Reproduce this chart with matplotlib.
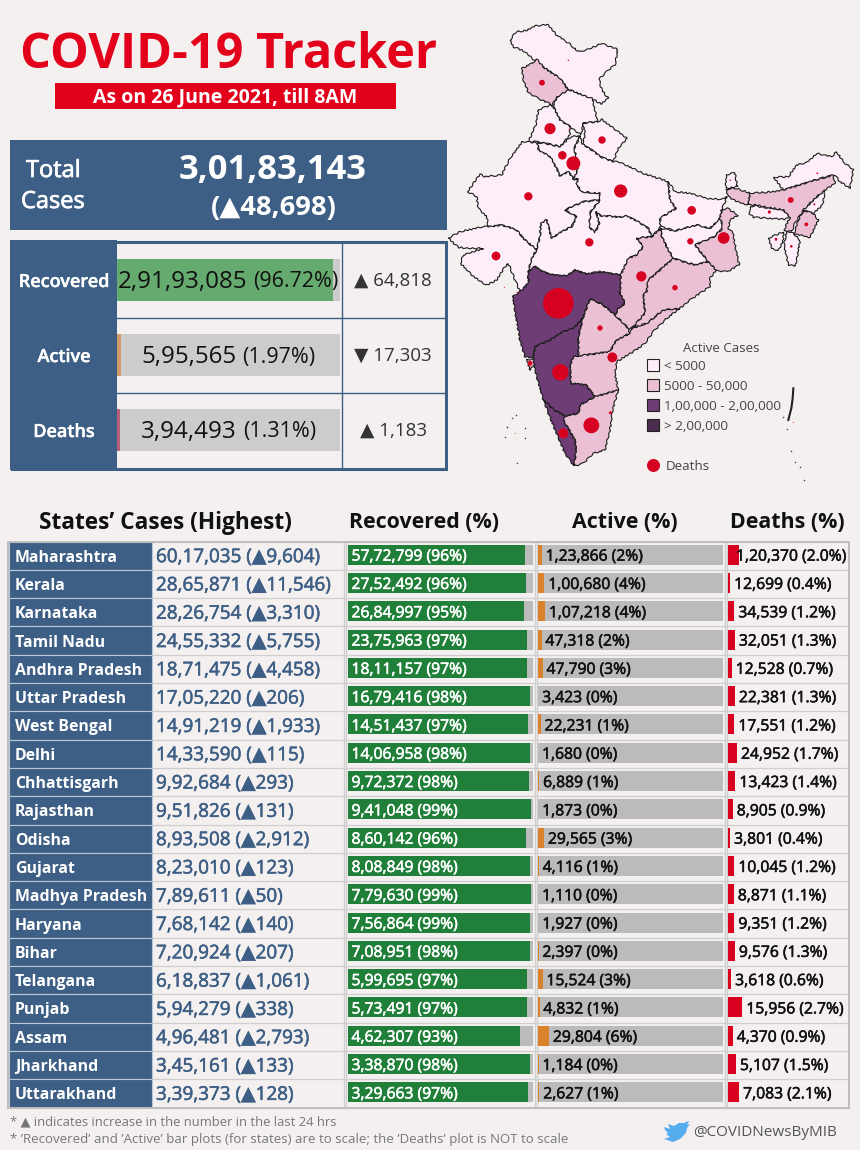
import matplotlib
matplotlib.use("Agg")
import matplotlib.pyplot as plt
import matplotlib.patheffects as pe
from matplotlib.patches import Rectangle, Polygon
import numpy as np

plt.rcParams['font.family'] = ['Open Sans', 'DejaVu Sans']

BG = '#f4f0f0'
BLUE = '#3e5f85'

# headline numbers
total_cases = '3,01,83,143'
total_delta = '(▲48,698)'
summary_names = ['Recovered', 'Active', 'Deaths']
summary_values = ['2,91,93,085', '5,95,565', '3,94,493']
summary_pcts = [96.72, 1.97, 1.31]
summary_changes = ['▲ 64,818', '▼ 17,303', '▲ 1,183']
summary_colors = ['#65aa6e', '#d39a6c', '#b5607a']

# state table
states = ['Maharashtra', 'Kerala', 'Karnataka', 'Tamil Nadu', 'Andhra Pradesh',
          'Uttar Pradesh', 'West Bengal', 'Delhi', 'Chhattisgarh', 'Rajasthan',
          'Odisha', 'Gujarat', 'Madhya Pradesh', 'Haryana', 'Bihar', 'Telangana',
          'Punjab', 'Assam', 'Jharkhand', 'Uttarakhand']
total = [6017035, 2865871, 2826754, 2455332, 1871475, 1705220, 1491219, 1433590,
         992684, 951826, 893508, 823010, 789611, 768142, 720924, 618837, 594279,
         496481, 345161, 339373]
delta = [9604, 11546, 3310, 5755, 4458, 206, 1933, 115, 293, 131, 2912, 123, 50,
         140, 207, 1061, 338, 2793, 133, 128]
recovered = [5772799, 2752492, 2684997, 2375963, 1811157, 1679416, 1451437, 1406958,
             972372, 941048, 860142, 808849, 779630, 756864, 708951, 599695, 573491,
             462307, 338870, 329663]
rec_pct = [96, 96, 95, 97, 97, 98, 97, 98, 98, 99, 96, 98, 99, 99, 98, 97, 97, 93, 98, 97]
active = [123866, 100680, 107218, 47318, 47790, 3423, 22231, 1680, 6889, 1873, 29565,
          4116, 1110, 1927, 2397, 15524, 4832, 29804, 1184, 2627]
act_pct = [2, 4, 4, 2, 3, 0, 1, 0, 1, 0, 3, 1, 0, 0, 0, 3, 1, 6, 0, 1]
deaths = [120370, 12699, 34539, 32051, 12528, 22381, 17551, 24952, 13423, 8905, 3801,
          10045, 8871, 9351, 9576, 3618, 15956, 4370, 5107, 7083]
death_pct = [2.0, 0.4, 1.2, 1.3, 0.7, 1.3, 1.2, 1.7, 1.4, 0.9, 0.4, 1.2, 1.1, 1.2, 1.3,
             0.6, 2.7, 0.9, 1.5, 2.1]

# map outlines, in map units
light_states = [
    [(210,92),(228,65),(258,62),(285,48),(325,44),(350,75),(387,100),(415,125),(445,118),(485,100),(533,118),(525,165),(505,180),(477,208),(485,240),(505,265),(483,282),(457,266),(425,255),(385,238),(360,205),(315,175),(295,160),(280,148),(255,125),(220,110)],
    [(350,262),(385,238),(425,255),(457,266),(465,300),(473,335),(430,340),(423,375),(390,350),(360,330),(340,290)],
    [(295,300),(330,285),(340,290),(360,330),(390,350),(390,375),(360,410),(325,402),(293,395),(265,395),(287,345)],
    [(430,340),(473,335),(485,328),(520,355),(562,385),(535,415),(520,455),(485,442),(455,420),(427,402),(435,375)],
    [(293,398),(325,402),(360,410),(393,380),(420,378),(403,415),(415,475),(400,508),(387,485),(360,498),(350,475),(330,440),(295,420)],
    [(247,395),(293,398),(295,420),(330,440),(350,475),(360,498),(387,485),(400,508),(415,505),(410,520),(423,545),(480,550),(480,570),(430,575),(375,600),(410,620),(395,650),(365,665),(335,685),(320,630),(303,640),(300,680),(290,720),(255,690),(230,660),(185,645),(145,650),(140,620),(115,595),(110,560),(83,545),(120,492),(135,500),(185,495),(210,445)],
    [(420,378),(403,415),(415,475),(400,508),(415,505),(410,520),(423,545),(480,550),(480,570),(452,605),(447,650),(465,668),(478,640),(468,605),(485,620),(510,618),(535,622),(560,618),(585,630),(625,655),(635,680),(662,650),(660,625),(708,595),(690,570),(685,515),(610,490),(535,455),(520,455),(485,442),(455,420),(427,402)],
    [(290,720),(300,680),(303,640),(320,630),(335,685),(365,665),(395,650),(410,620),(375,600),(430,575),(480,570),(452,605),(447,650),(465,668),(478,640),(468,605),(485,620),(510,618),(535,622),(560,618),(585,630),(625,655),(635,680),(590,685),(610,710),(590,735),(565,745),(542,795),(480,785),(440,792),(405,780),(380,798),(340,795),(315,788),(285,770),(265,785),(275,745)],
    [(25,685),(60,665),(130,650),(145,650),(185,645),(230,660),(255,690),(290,720),(275,745),(265,785),(265,820),(240,845),(225,810),(205,760),(195,770),(170,810),(140,825),(100,800),(62,760),(70,735),(130,715),(90,715),(55,712)],
    [(662,655),(705,662),(770,645),(810,655),(840,625),(848,645),(845,658),(822,680),(765,705),(805,755),(765,765),(730,755),(700,745),(685,720),(665,680)],
    [(685,515),(705,545),(750,550),(800,565),(845,568),(862,560),(845,600),(840,625),(810,655),(770,645),(705,662),(662,650),(660,625),(708,595),(690,570)],
    [(858,495),(885,488),(892,530),(858,535)],
    [(1002,502),(1045,500),(1070,465),(1100,458),(1130,430),(1175,440),(1190,425),(1210,455),(1240,480),(1230,535),(1200,515),(1185,495),(1160,500),(1110,515),(1030,540)],
    [(1155,540),(1148,585),(1120,610),(1090,600),(1125,565)],
    [(930,590),(945,588),(1030,600),(1050,622),(1035,628),(940,622),(928,610)],
    [(985,685),(1030,665),(1030,690),(1015,722),(995,715)],
    [(1040,662),(1062,672),(1080,690),(1070,750),(1065,768),(1045,765),(1032,705)],
]
pink_states = [
    [(277,160),(290,148),(315,175),(360,205),(385,240),(350,262),(337,285),(300,268),(265,248),(250,210),(245,175)],
    [(450,865),(490,885),(525,915),(565,955),(570,970),(530,990),(510,1025),(415,1038),(415,980),(428,925)],
    [(415,1038),(510,1025),(530,990),(570,970),(575,955),(620,940),(670,900),(720,895),(680,925),(640,965),(615,1000),(580,1025),(530,1055),(525,1090),(535,1140),(500,1150),(465,1160),(438,1125),(392,1120),(390,1065),(400,1040)],
    [(590,685),(635,680),(662,655),(665,680),(685,720),(700,745),(660,780),(625,810),(620,845),(610,855),(615,910),(580,950),(575,955),(565,955),(525,915),(535,895),(555,880),(540,850),(542,795),(565,745),(590,735),(610,710)],
    [(700,745),(730,755),(765,765),(805,755),(830,780),(810,805),(810,830),(750,870),(720,895),(670,900),(620,940),(575,955),(580,950),(615,910),(610,855),(620,845),(625,810),(660,780)],
    [(845,600),(862,595),(895,615),(870,630),(865,655),(880,670),(885,705),(898,765),(862,785),(830,782),(805,755),(765,705),(822,680),(845,658),(848,645),(840,625)],
    [(858,538),(890,535),(930,550),(925,585),(890,575),(865,560)],
    [(930,550),(1000,545),(1030,540),(1110,515),(1180,495),(1185,520),(1155,540),(1125,565),(1090,600),(1065,640),(1055,665),(1032,660),(1050,622),(1030,600),(945,585),(925,585)],
    [(1090,602),(1120,610),(1135,630),(1110,682),(1062,672),(1075,630)],
    [(375,1218),(415,1210),(420,1185),(465,1160),(500,1150),(535,1140),(518,1200),(510,1260),(495,1320),(460,1330),(430,1360),(402,1368),(408,1320),(405,1290),(370,1230)],
    [(260,1048),(285,1050),(280,1070),(270,1080)],
]
purple_states = [
    [(265,785),(285,770),(315,788),(340,795),(380,798),(405,780),(440,792),(480,785),(542,795),(540,850),(555,880),(535,895),(525,915),(490,885),(450,865),(428,925),(400,955),(370,965),(330,990),(285,1010),(280,1045),(255,1040),(240,990),(218,860),(240,845),(265,820)],
    [(285,1010),(330,990),(370,965),(400,955),(428,925),(415,980),(415,1038),(400,1040),(390,1065),(392,1120),(438,1125),(465,1160),(420,1185),(415,1210),(375,1218),(340,1198),(310,1170),(285,1080),(280,1045)],
    [(310,1170),(340,1198),(375,1218),(370,1230),(405,1290),(408,1320),(402,1368),(375,1330),(345,1260)],
]
andaman = [(1060,1135),(1058,1165),(1054,1195),(1050,1210),(1045,1230)]
island_x = [1040,1030,1052,1066,1080,1092,200,215,228,195,255,200,230,255]
island_y = [1258,1222,1322,1355,1372,1410,1250,1225,1215,1282,1255,1250,1360,1285]

# deaths dots on the map
dot_x = [355,370,361,454,517,542,851,400,604,265,705,168,448,367,755,480,330,1052,751,486,306,385,270,1099,1008,1054,1123,988,871,193,226,511,1060,1132,232,388]
dot_y = [880,1270,1087,1246,1042,543,684,460,799,559,833,738,697,436,601,954,356,570,694,390,218,151,1060,643,688,709,583,606,511,832,1270,1208,1237,490,848,358]
dot_deaths = [120370,12699,34539,32051,12528,22381,17551,24952,13423,8905,3801,10045,8871,9351,9576,3618,15956,4370,5107,7083,4300,250,3000,1800,1000,850,500,1300,300,150,100,1100,120,400,300,250]

legend_labels = ['< 5000', '5000 - 50,000', '1,00,000 - 2,00,000', '> 2,00,000']
legend_colors = ['#fdeefa', '#ecc0d4', '#6f3d75', '#4a2d4f']
bird = [(664,1127),(670,1129),(668,1124),(674,1126),(679,1123),(684,1123),(689,1121),(687,1125),(690,1124),(687,1128),(686,1133),(680,1139),(673,1142),(664,1139),(670,1137),(666,1134),(668,1133),(665,1130)]


def fmt_in(n):
    s = str(n)
    if len(s) <= 3:
        return s
    head, tail = s[:-3], s[-3:]
    parts = []
    while len(head) > 2:
        parts.insert(0, head[-2:])
        head = head[:-2]
    parts.insert(0, head)
    return ','.join(parts) + ',' + tail


def mx(x):
    return 440 + x / 3


def my(y):
    return 10 + y / 3


def box(x0, y0, x1, y1, color, z=1):
    ax.add_patch(Rectangle((x0, y0), x1 - x0, y1 - y0, facecolor=color, edgecolor='none', zorder=z))


def heavy(color, w=0.4):
    return [pe.withStroke(linewidth=w, foreground=color)]


def two_part(x, y, a, b, size_a, size_b, color='#111111'):
    t1 = ax.text(x, y, a, fontsize=size_a, color=color, va='center', ha='left', zorder=5)
    t2 = ax.text(x, y, b, fontsize=size_b, color=color, va='center', ha='left', zorder=5)
    r = fig.canvas.get_renderer()
    e1 = t1.get_window_extent(r)
    e2 = t2.get_window_extent(r)
    gap = 6
    x_start = x - (e1.width + e2.width + gap) / 2
    t1.set_x(x_start)
    t2.set_x(x_start + e1.width + gap)


fig = plt.figure(figsize=(8.6, 11.5), dpi=100, facecolor=BG)
ax = fig.add_axes([0, 0, 1, 1])
ax.set_xlim(0, 860)
ax.set_ylim(1150, 0)
ax.axis('off')

# title
ax.text(228, 56, 'COVID-19 Tracker', fontsize=35, fontweight='bold', color='#e2001a', ha='center', va='center')
box(55, 83, 396, 109, '#e2001a')
ax.text(225, 97.5, 'As on 26 June 2021, till 8AM', fontsize=14, fontweight='bold', color='white', ha='center', va='center')

# total box
box(10, 140, 447, 230, BLUE)
ax.text(26, 171, 'Total', fontsize=17, color='white', va='center', path_effects=heavy('white', 0.5))
ax.text(21, 202, 'Cases', fontsize=17, color='white', va='center', path_effects=heavy('white', 0.5))
ax.text(273, 170, total_cases, fontsize=24.8, fontweight='bold', color='white', ha='center', va='center')
ax.text(274, 208, total_delta, fontsize=19.7, fontweight='bold', color='white', ha='center', va='center')

# summary panel
box(10, 240, 117, 470, BLUE)
ax.add_patch(Rectangle((11.5, 241.5), 434, 227, facecolor='none', edgecolor=BLUE, linewidth=2.2, zorder=4))
row_lines = [317.5, 392.5]
for yl in row_lines:
    ax.plot([117, 445], [yl, yl], color=BLUE, lw=1, zorder=3)
ax.plot([341.5, 341.5], [243, 468], color=BLUE, lw=1, zorder=3)
for i, name in enumerate(summary_names):
    yc = 280 + i * 75
    ax.text(64, yc + 2, name, fontsize=13, fontweight='semibold', color='white', ha='center', va='center', path_effects=heavy('white', 0.3))
    ax.barh(yc, 223, height=42, left=117, color='#cccccb', zorder=2)
    ax.barh(yc, 223 * summary_pcts[i] / 100, height=42, left=117, color=summary_colors[i], zorder=3)
    two_part(228.5, yc + 2, summary_values[i], '(%.2f%%)' % summary_pcts[i], 17.4, 15.4)
    ax.text(393, yc + 1, summary_changes[i], fontsize=13.5, color='#333333', ha='center', va='center', zorder=5)

# map
for group, col in [(light_states, legend_colors[0]), (pink_states, legend_colors[1]), (purple_states, legend_colors[2])]:
    for poly in group:
        pts = [(mx(p[0]), my(p[1])) for p in poly]
        patch = Polygon(pts, closed=True, facecolor=col, edgecolor='#1c1c1c', linewidth=0.8, zorder=2)
        patch.set_sketch_params(scale=0.7, length=7, randomness=3)
        ax.add_patch(patch)
ax.plot([mx(p[0]) for p in andaman], [my(p[1]) for p in andaman], color='#222222', lw=1.5, zorder=3)
ax.scatter([mx(v) for v in island_x], [my(v) for v in island_y], s=1.2, color='#444444', zorder=3, linewidths=0)
dot_r = 15.3 * np.sqrt(np.array(dot_deaths) / 120370)
ax.scatter([mx(v) for v in dot_x], [my(v) for v in dot_y], s=(2 * dot_r * 0.72) ** 2, color='#d60021', linewidths=0, zorder=4)

# map legend
ax.text(721, 348, 'Active Cases', fontsize=9.5, color='#444444', ha='center', va='center')
for i, lab in enumerate(legend_labels):
    yc = 365 + i * 20
    ax.add_patch(Rectangle((646.5, yc - 6), 12, 12, facecolor=legend_colors[i], edgecolor='#222222', linewidth=0.8, zorder=3))
    ax.text(664, yc + 1, lab, fontsize=9.7, color='#444444', va='center')
ax.scatter([653], [465], s=(2 * 6.5 * 0.72) ** 2, color='#d60021', linewidths=0, zorder=4)
ax.text(666, 466, 'Deaths', fontsize=9.6, color='#444444', va='center')

# table headers
ax.text(165, 523, 'States’ Cases (Highest)', fontsize=16.3, fontweight='bold', color='#111111', ha='center', va='center')
ax.text(424, 523, 'Recovered (%)', fontsize=15.4, fontweight='bold', color='#111111', ha='center', va='center')
ax.text(625, 523, 'Active (%)', fontsize=15.4, fontweight='bold', color='#111111', ha='center', va='center')
ax.text(787, 523, 'Deaths (%)', fontsize=15.4, fontweight='bold', color='#111111', ha='center', va='center')

# table
top = 541.5
pitch = 28.3
rows = np.arange(len(states))
yc = top + pitch * rows + pitch / 2
ax.barh(yc, 143, height=pitch, left=9, color=BLUE, edgecolor='#b8c8dc', linewidth=0.8, zorder=2)
rec_w = 185 * np.array(recovered) / np.array(total)
act_w = 185 * np.array(active) / np.array(total)
dea_w = 5.3 * np.array(death_pct)
ax.barh(yc - 1, 185, height=20, left=348, color='#bbbbbb', zorder=2)
ax.barh(yc - 1, rec_w, height=20, left=348, color='#208039', zorder=3)
ax.barh(yc - 1, 185, height=20, left=538, color='#bbbbbb', zorder=2)
ax.barh(yc - 1, act_w, height=20, left=538, color='#d9822b', zorder=3)
ax.barh(yc - 1, dea_w, height=20, left=728, color='#d9001f', zorder=3)
for i in range(len(states) + 1):
    yl = top + pitch * i
    ax.plot([152, 849], [yl, yl], color='#cfcfcf', lw=0.9, zorder=1)
for i, s in enumerate(states):
    ax.text(15, yc[i] + 2, s, fontsize=11.4, fontweight='bold', color='white', va='center', zorder=5)
    ax.text(156, yc[i] + 1.5, '%s (▲%s)' % (fmt_in(total[i]), fmt_in(delta[i])), fontsize=13.6, color=BLUE, va='center', zorder=5, path_effects=heavy(BLUE))
    ax.text(351.5, yc[i] + 1, '%s (%d%%)' % (fmt_in(recovered[i]), rec_pct[i]), fontsize=11.3, color='white', va='center', zorder=5, path_effects=heavy('white'))
    ax.text(538 + act_w[i] + 3.8, yc[i] + 1, '%s (%d%%)' % (fmt_in(active[i]), act_pct[i]), fontsize=11.3, color='#111111', va='center', zorder=5, path_effects=heavy('#111111'))
    label_x = 736 if i == 0 else 728 + dea_w[i] + 4
    ax.text(label_x, yc[i] + 1, '%s (%.1f%%)' % (fmt_in(deaths[i]), death_pct[i]), fontsize=11.3, color='#111111', va='center', zorder=5, path_effects=heavy('#111111'))
bottom = top + pitch * len(states)
ax.add_patch(Rectangle((8, top), 841, pitch * len(states), facecolor='none', edgecolor='#bdbdbd', linewidth=1.4, zorder=6))
for xl in [343.5, 346, 534.5, 537, 724.5, 727]:
    ax.plot([xl, xl], [top, bottom], color='#cfcfcf', lw=1, zorder=1)

# footer
ax.text(10, 1122, '* ▲ indicates increase in the number in the last 24 hrs', fontsize=9.4, color='#777777', va='center')
ax.text(10, 1140, "* ’Recovered’ and ’Active’ bar plots (for states) are to scale; the ’Deaths’ plot is NOT to scale", fontsize=9.55, color='#777777', va='center')
ax.add_patch(Polygon(bird, closed=True, facecolor='#55acee', edgecolor='none', zorder=3))
ax.text(693, 1133, '@COVIDNewsByMIB', fontsize=11, color='#555555', va='center')

fig.savefig('out.png', dpi=100, facecolor=BG)
